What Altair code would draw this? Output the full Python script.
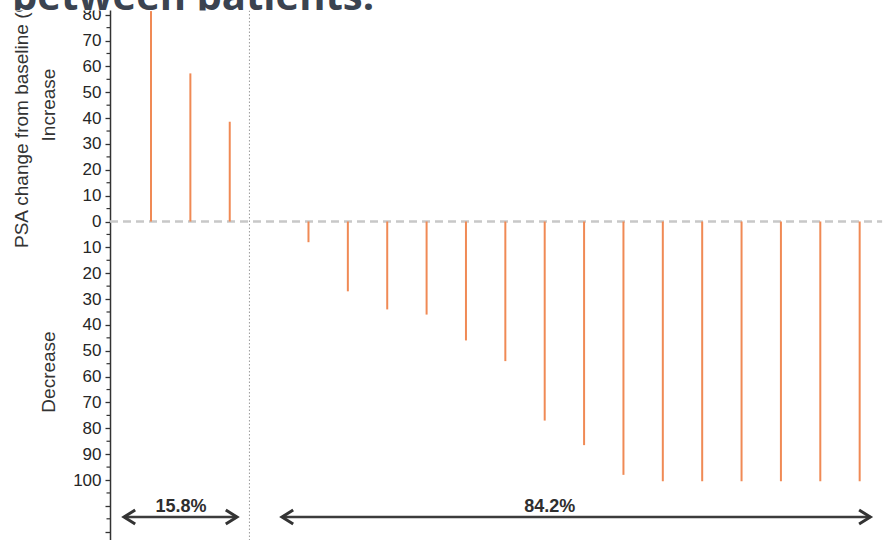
import altair as alt
import pandas as pd

# Patient slots along the x axis and PSA change (%) from baseline (decreases negative)
patient_slot = list(range(1, 20))
psa_change = [81.4, 57.3, 38.6, 0, -8, -27, -34, -36, -46, -54, -77, -86.5, -98,
              -100.5, -100.5, -100.5, -100.5, -100.5, -100.5]

# Y axis ticks (labels show the magnitude only)
major_ticks = list(range(-120, 81, 10))
minor_ticks = list(range(-115, 86, 10))

# Increase / decrease split and group shares
group_split = [3.5]
group_labels = ["15.8%", "84.2%"]
label_pos = [1.76, 11.13]
arrow_from = [0.314, 4.327]
arrow_to = [3.184, 19.27]
arrow_level = -114.3
label_level = -110.3
zero_extent = [-0.0414, 19.57]

X_DOMAIN = [-0.0414, 19.745]
Y_DOMAIN = [-123.2, 85.69]
W, H, LEFT = 779, 540, 110

ORANGE = "#f08a55"
INK = "#333333"
FONT = "Liberation Sans"

x_scale = alt.Scale(domain=X_DOMAIN, nice=False, zero=False)
y_scale = alt.Scale(domain=Y_DOMAIN, nice=False, zero=False)

y_axis = alt.Axis(
    values=major_ticks,
    labelExpr="datum.value < -100 ? '' : '' + abs(datum.value)",
    tickSize=5, tickWidth=1.3, tickColor=INK,
    domainColor=INK, domainWidth=1.5,
    labelPadding=4, labelFont=FONT, labelFontSize=17, labelColor="#262626",
    labelOverlap=False, labelFlush=False, grid=False, title=None,
)


def xq(field):
    return alt.X(field, type="quantitative", scale=x_scale, axis=None)


def yq(field):
    return alt.Y(field, type="quantitative", scale=y_scale, axis=y_axis)


bars_df = pd.DataFrame({"slot": patient_slot, "change": psa_change, "base": 0})
minor_df = pd.DataFrame({"v": minor_ticks})
zero_df = pd.DataFrame({"x": [zero_extent[0]], "x2": [zero_extent[1]], "y": [0]})
split_df = pd.DataFrame({"pos": group_split})
arrows_df = pd.DataFrame({"x": arrow_from, "x2": arrow_to, "y": arrow_level})
labels_df = pd.DataFrame({"x": label_pos, "y": label_level, "t": group_labels})
one = pd.DataFrame({"k": [0]})

bars = alt.Chart(bars_df).mark_rule(color=ORANGE, strokeWidth=2).encode(
    x=xq("slot"), y=yq("change"), y2="base:Q",
)

minor = alt.Chart(minor_df).mark_rule(color=INK, strokeWidth=1.2).encode(
    y=yq("v"), x=alt.value(-3.5), x2=alt.value(0),
)

zero_line = alt.Chart(zero_df).mark_rule(
    color="#c8c8c8", strokeWidth=2.3, strokeDash=[8, 5]
).encode(x=xq("x"), x2="x2:Q", y=yq("y"))

split = alt.Chart(split_df).mark_rule(
    color="#9a9a9a", strokeWidth=1, strokeDash=[1.5, 2]
).encode(x=xq("pos"), y=alt.value(10.5), y2=alt.value(H))

arrow_shaft = alt.Chart(arrows_df).mark_rule(color="#3c3c3c", strokeWidth=2.5).encode(
    x=xq("x"), x2="x2:Q", y=yq("y"),
)
head_left = alt.Chart(arrows_df).mark_point(
    shape="M 1.6 -1 L 0 0 L 1.6 1", filled=False, size=196,
    strokeWidth=3, color=INK, opacity=1,
).encode(x=xq("x"), y=yq("y"))
head_right = alt.Chart(arrows_df).mark_point(
    shape="M -1.6 -1 L 0 0 L -1.6 1", filled=False, size=196,
    strokeWidth=3, color=INK, opacity=1,
).encode(x=xq("x2"), y=yq("y"))
shares = alt.Chart(labels_df).mark_text(
    font=FONT, fontWeight="bold", fontSize=18, color="#2e2e2e",
    align="center", baseline="middle",
).encode(x=xq("x"), y=yq("y"), text="t:N")

y_title = alt.Chart(one).mark_text(
    text="PSA change from baseline (%)", font=FONT, fontSize=19, color=INK,
    angle=270, align="left", baseline="alphabetic",
).encode(x=alt.value(28 - LEFT), y=alt.value(248))
increase = alt.Chart(one).mark_text(
    text="Increase", font=FONT, fontSize=19, color=INK,
    angle=270, align="center", baseline="alphabetic",
).encode(x=alt.value(55 - LEFT), y=alt.value(105))
decrease = alt.Chart(one).mark_text(
    text="Decrease", font=FONT, fontSize=19, color=INK,
    angle=270, align="center", baseline="alphabetic",
).encode(x=alt.value(55 - LEFT), y=alt.value(372))

# slide heading strip above the chart; the chart panel sits over its lower part
top_strip = alt.Chart(one).mark_rect(color="white").encode(
    x=alt.value(-LEFT), x2=alt.value(W), y=alt.value(0), y2=alt.value(10.5)
)
heading = alt.Chart(one).mark_text(
    text="between patients.", font="Open Sans", fontWeight="bold", fontSize=40,
    color="#3b4350", align="left", baseline="alphabetic",
).encode(x=alt.value(12 - LEFT), y=alt.value(10))
heading_cover = alt.Chart(one).mark_rect(color="white").encode(
    x=alt.value(160 - LEFT), x2=alt.value(240 - LEFT),
    y=alt.value(10.5), y2=alt.value(26),
)

chart = alt.layer(
    zero_line, split, bars, minor, arrow_shaft, head_left, head_right, shares,
    y_title, increase, decrease, top_strip, heading, heading_cover,
).properties(
    width=W, height=H,
    padding={"left": LEFT, "top": 0, "right": 0, "bottom": 0},
    autosize=alt.AutoSizeParams(type="none"),
).configure_view(stroke=None).configure(background="white")

chart.save("out.html", embed_options={"renderer": "svg", "actions": False})
